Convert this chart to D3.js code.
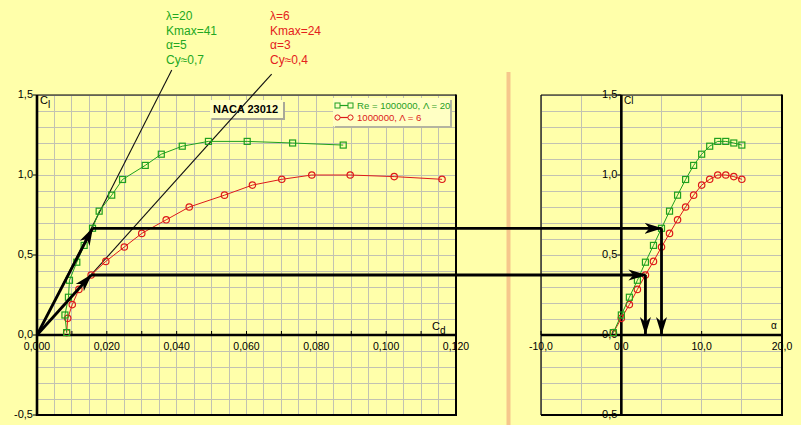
<!DOCTYPE html>
<html><head><meta charset="utf-8">
<script src="https://cdn.jsdelivr.net/npm/d3@7"></script>
<style>
body{margin:0;background:#ffffaa;}
svg{display:block;font-family:"Liberation Sans",Arial,sans-serif;}
</style>
</head><body>
<svg id="c" width="801" height="425"></svg>
<script>
// ---- data ----
const alpha = [-1,0,1,2,3,4,5,6,7,8,9,10,11,12,13,14,15];
const clGreen = [0.015,0.125,0.236,0.342,0.455,0.56,0.667,0.774,0.874,0.972,1.06,1.13,1.18,1.21,1.21,1.20,1.187];
const cdGreen = [0.0085,0.0080,0.0090,0.0093,0.0114,0.0135,0.0159,0.0178,0.0214,0.0245,0.0310,0.0356,0.0416,0.0491,0.0602,0.0732,0.0877];
const clRed = [0.015,0.104,0.19,0.285,0.375,0.46,0.55,0.635,0.72,0.80,0.874,0.937,0.973,1.0,1.0,0.99,0.973];
const cdRed = [0.0085,0.0088,0.0101,0.0120,0.0155,0.0197,0.0250,0.0300,0.0370,0.0436,0.0537,0.0617,0.0701,0.0787,0.0897,0.1023,0.1160];
const seriesNames = ["Re = 1000000, \u039B = 20", "1000000, \u039B = 6"];
const bestIndex = [6, 4];            // alpha = 5 and alpha = 3
const tangentEndCd = [0.0386, 0.0672];
const tangentEndCl = [1.656, 1.631];
const notesGreen = ["\u03BB=20", "Kmax=41", "\u03B1=5", "Cy\u22480,7"];
const notesRed = ["\u03BB=6", "Kmax=24", "\u03B1=3", "Cy\u22480,4"];
const cdTicks = [0, 0.02, 0.04, 0.06, 0.08, 0.1, 0.12];
const clTicks = [-0.5, 0, 0.5, 1.0, 1.5];
const alphaTicks = [-10, 0, 10, 20];

const fmt1 = d => d3.format(".1f")(d).replace(".", ",").replace("\u2212","-");
const fmt3 = d => d3.format(".3f")(d).replace(".", ",");

const GREEN = "#1fa01f", RED = "#dd1a1a", GRID = "#c2c2b2";
const svg = d3.select("#c");
svg.append("rect").attr("width",801).attr("height",425).attr("fill","#ffffaa");

const xL = d3.scaleLinear().domain([0,0.12]).range([37,456]);
const y = d3.scaleLinear().domain([-0.5,1.5]).range([415,95]);
const xR = d3.scaleLinear().domain([-10,20]).range([541,782]);

// separator
svg.append("rect").attr("x",506.5).attr("y",72).attr("width",4).attr("height",353).attr("fill","#f6c78c");

// grids
function grid(xs, xvals, yvals){
  const g = svg.append("g").attr("stroke",GRID).attr("stroke-width",1).attr("shape-rendering","crispEdges");
  g.selectAll(".v").data(xvals).join("line")
    .attr("x1",d=>xs(d)).attr("x2",d=>xs(d)).attr("y1",y(1.5)).attr("y2",y(-0.5));
  g.selectAll(".h").data(yvals).join("line")
    .attr("x1",xs.range()[0]).attr("x2",xs.range()[1]).attr("y1",d=>y(d)).attr("y2",d=>y(d));
}
const yGrid = d3.range(-5,16).map(i=>i/10);
grid(xL, d3.range(0,25).map(i=>i*0.005), yGrid);
grid(xR, d3.range(-10,21,5), yGrid);

// frames
function frame(xs){
  const [a,b] = xs.range();
  svg.append("line").attr("x1",a).attr("x2",b).attr("y1",95).attr("y2",95).attr("stroke","#000").attr("stroke-width",1.2);
  svg.append("line").attr("x1",a).attr("x2",a).attr("y1",95).attr("y2",415).attr("stroke","#000").attr("stroke-width",1.2);
  svg.append("line").attr("x1",b).attr("x2",b).attr("y1",94.5).attr("y2",416).attr("stroke","#000").attr("stroke-width",2);
  svg.append("line").attr("x1",a).attr("x2",b+1).attr("y1",415).attr("y2",415).attr("stroke","#000").attr("stroke-width",2.2);
}
frame(xL); frame(xR);

// axes lines
function axes(xs){
  const [a,b] = xs.range();
  svg.append("line").attr("x1",xs(0)).attr("x2",xs(0)).attr("y1",95).attr("y2",416).attr("stroke","#000").attr("stroke-width",2.6);
  svg.append("line").attr("x1",a).attr("x2",b).attr("y1",y(0)).attr("y2",y(0)).attr("stroke","#000").attr("stroke-width",2.6);
}
axes(xL); axes(xR);

// ticks & labels
const lab = svg.append("g").attr("font-size",11).attr("fill","#000");
function yTicks(x0){
  clTicks.forEach(v=>{
    svg.append("line").attr("x1",x0-4).attr("x2",x0).attr("y1",y(v)).attr("y2",y(v)).attr("stroke","#000");
    lab.append("text").attr("x",x0-4).attr("y",y(v)+3).attr("text-anchor","end").text(fmt1(v));
  });
}
yTicks(xL(0)); yTicks(xR(0));
d3.range(0,13).map(i=>i*0.01).forEach(v=>{
  svg.append("line").attr("x1",xL(v)).attr("x2",xL(v)).attr("y1",y(0)-4).attr("y2",y(0)).attr("stroke","#000");
});
cdTicks.forEach(v=>{
  lab.append("text").attr("x",xL(v)).attr("y",y(0)+14.5).attr("font-size",10.5).attr("text-anchor","middle").text(fmt3(v));
});
alphaTicks.forEach(v=>{
  svg.append("line").attr("x1",xR(v)).attr("x2",xR(v)).attr("y1",y(0)-4).attr("y2",y(0)).attr("stroke","#000");
  lab.append("text").attr("x",xR(v)).attr("y",y(0)+14.5).attr("font-size",10.5).attr("text-anchor","middle").text(fmt1(v));
});

// axis titles
const t1 = lab.append("text").attr("x",40).attr("y",104);
t1.append("tspan").text("C");
t1.append("tspan").attr("font-size",10).attr("dy",4).text("l");
const t2 = lab.append("text").attr("x",432).attr("y",330);
t2.append("tspan").text("C");
t2.append("tspan").attr("font-size",10).attr("dy",4).text("d");
lab.append("text").attr("x",624).attr("y",104).attr("font-size",10).text("Cl");
lab.append("text").attr("x",771).attr("y",329).attr("font-size",10).text("\u03B1");

// title box
svg.append("rect").attr("x",212).attr("y",102).attr("width",73).attr("height",18).attr("fill","#a8a898");
svg.append("rect").attr("x",210).attr("y",100).attr("width",73).attr("height",18).attr("fill","#ffffc4");
svg.append("text").attr("x",213).attr("y",112.5).attr("font-size",11).attr("font-weight","bold").text("NACA 23012");

// tangent lines
[0,1].forEach(i=>{
  svg.append("line").attr("x1",xL(0)).attr("y1",y(0)).attr("x2",xL(tangentEndCd[i])).attr("y2",y(tangentEndCl[i]))
    .attr("stroke","#111").attr("stroke-width",1.1);
});

// series
const series = [
  {cl:clGreen, cd:cdGreen, color:GREEN, shape:"square"},
  {cl:clRed, cd:cdRed, color:RED, shape:"circle"}
];
function drawMarker(g, x, yy, s){
  if(s.shape==="square"){
    g.append("rect").attr("x",x-3).attr("y",yy-3).attr("width",6).attr("height",6)
      .attr("fill","none").attr("stroke",s.color).attr("stroke-width",1.2);
  } else {
    g.append("circle").attr("cx",x).attr("cy",yy).attr("r",3.2)
      .attr("fill","none").attr("stroke",s.color).attr("stroke-width",1.2);
  }
}
series.slice().reverse().forEach(s=>{
  const lineL = d3.line().x((d,i)=>xL(s.cd[i])).y((d,i)=>y(s.cl[i]));
  const lineR = d3.line().x((d,i)=>xR(alpha[i])).y((d,i)=>y(s.cl[i]));
  svg.append("path").attr("d",lineL(s.cl)).attr("fill","none").attr("stroke",s.color).attr("stroke-width",1);
  svg.append("path").attr("d",lineR(s.cl)).attr("fill","none").attr("stroke",s.color).attr("stroke-width",1);
  const g = svg.append("g");
  s.cl.forEach((c,i)=>{ drawMarker(g, xL(s.cd[i]), y(c), s); drawMarker(g, xR(alpha[i]), y(c), s); });
});

// arrows
const defs = svg.append("defs");
defs.append("marker").attr("id","ah").attr("viewBox","0 -6 18 12").attr("refX",17).attr("refY",0)
  .attr("markerWidth",18).attr("markerHeight",12).attr("markerUnits","userSpaceOnUse").attr("orient","auto")
  .append("path").attr("d","M0,-5.5 L18,0 L0,5.5 L5,0 Z").attr("fill","#000");
function arrow(x1,y1,x2,y2){
  svg.append("line").attr("x1",x1).attr("y1",y1).attr("x2",x2).attr("y2",y2)
    .attr("stroke","#000").attr("stroke-width",2.8).attr("marker-end","url(#ah)");
}
series.forEach((s,k)=>{
  const i = bestIndex[k];
  const px = xL(s.cd[i]), py = y(s.cl[i]), qx = xR(alpha[i]);
  arrow(xL(0), y(0), px, py);
  arrow(px, py, qx, py);
  arrow(qx, py, qx, y(0)-1);
});

// legend
svg.append("rect").attr("x",335).attr("y",100).attr("width",117).attr("height",28).attr("fill","#b4b4a0");
svg.append("rect").attr("x",333).attr("y",98).attr("width",117).attr("height",28).attr("fill","#ffffc4");
series.forEach((s,k)=>{
  const yy = 105.5 + k*12;
  const g = svg.append("g");
  g.append("line").attr("x1",337).attr("x2",351).attr("y1",yy).attr("y2",yy).attr("stroke",s.color).attr("stroke-width",1.2);
  if(s.shape==="square"){
    g.append("rect").attr("x",335).attr("y",yy-2.5).attr("width",5).attr("height",5).attr("fill","#ffffc4").attr("stroke",s.color);
    g.append("rect").attr("x",348).attr("y",yy-2.5).attr("width",5).attr("height",5).attr("fill","#ffffc4").attr("stroke",s.color);
  } else {
    g.append("circle").attr("cx",337.5).attr("cy",yy).attr("r",2.6).attr("fill","#ffffc4").attr("stroke",s.color);
    g.append("circle").attr("cx",350.5).attr("cy",yy).attr("r",2.6).attr("fill","#ffffc4").attr("stroke",s.color);
  }
  g.append("text").attr("x",357).attr("y",yy+3.5).attr("font-size",9.6).attr("fill",s.color).text(seriesNames[k]);
});

// annotations
const notes = [{x:166, lines:notesGreen, color:"#22a822"},{x:270, lines:notesRed, color:"#e4221c"}];
notes.forEach(n=>{
  n.lines.forEach((t,i)=>{
    svg.append("text").attr("x",n.x).attr("y",20+i*14.7).attr("font-size",12).attr("fill",n.color).text(t);
  });
});
</script>
</body></html>
